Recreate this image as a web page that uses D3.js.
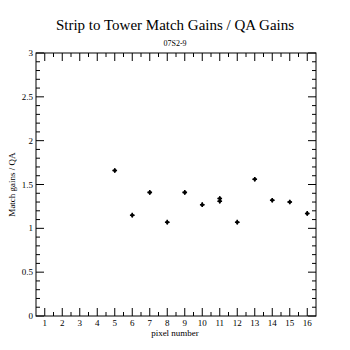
<!DOCTYPE html>
<html>
<head>
<meta charset="utf-8">
<script src="https://cdn.jsdelivr.net/npm/d3@7"></script>
<style>
  body { margin: 0; background: #fff; }
  text { font-family: "Liberation Serif", "DejaVu Serif", serif; fill: #000; }
</style>
</head>
<body>
<div id="chart"></div>
<script>
// Data
const pixels = [5, 6, 7, 8, 9, 10, 11, 11, 12, 13, 14, 15, 16];
const ratios = [1.66, 1.15, 1.41, 1.07, 1.41, 1.27, 1.31, 1.34, 1.07, 1.56, 1.32, 1.30, 1.17];
const xTicks = d3.range(1, 17);
const yTicks = [0, 0.5, 1, 1.5, 2, 2.5, 3];

const W = 350, H = 350;
const margin = { top: 53, right: 34, bottom: 34, left: 36 };

const svg = d3.select("#chart").append("svg")
    .attr("width", W)
    .attr("height", H);

const x = d3.scaleLinear().domain([0.5, 16.5]).range([margin.left, W - margin.right]);
const y = d3.scaleLinear().domain([0, 3]).range([H - margin.bottom, margin.top]);

// frame
svg.append("rect")
    .attr("x", x(0.5)).attr("y", y(3))
    .attr("width", x(16.5) - x(0.5)).attr("height", y(0) - y(3))
    .attr("fill", "none").attr("stroke", "#000").attr("stroke-width", 1);

// x ticks (major at integers, minor at halves), bottom and top
const xMinor = d3.range(1.5, 16.5, 1);
const xAxisB = svg.append("g");
xAxisB.selectAll(".xmaj").data(xTicks).enter().append("line")
    .attr("x1", d => x(d)).attr("x2", d => x(d))
    .attr("y1", y(0)).attr("y2", y(0) - 8).attr("stroke", "#000");
xAxisB.selectAll(".xmin").data(xMinor).enter().append("line")
    .attr("x1", d => x(d)).attr("x2", d => x(d))
    .attr("y1", y(0)).attr("y2", y(0) - 4).attr("stroke", "#000");
xAxisB.selectAll(".xmajt").data(xTicks).enter().append("line")
    .attr("x1", d => x(d)).attr("x2", d => x(d))
    .attr("y1", y(3)).attr("y2", y(3) + 8).attr("stroke", "#000");
xAxisB.selectAll(".xmint").data(xMinor).enter().append("line")
    .attr("x1", d => x(d)).attr("x2", d => x(d))
    .attr("y1", y(3)).attr("y2", y(3) + 4).attr("stroke", "#000");
xAxisB.selectAll(".xlab").data(xTicks).enter().append("text")
    .attr("x", d => x(d)).attr("y", y(0) + 10)
    .attr("text-anchor", "middle").attr("font-size", 9)
    .text(d => d);

// y ticks (major every 0.5, minor every 0.1), left and right
const yMinor = d3.range(0, 31).map(i => i / 10).filter(v => Math.round(v * 10) % 5 !== 0);
const yAxis = svg.append("g");
[[x(0.5), 1], [x(16.5), -1]].forEach(([x0, dir]) => {
    yAxis.append("g").selectAll("line").data(yTicks).enter().append("line")
        .attr("x1", x0).attr("x2", x0 + dir * 8)
        .attr("y1", d => y(d)).attr("y2", d => y(d)).attr("stroke", "#000");
    yAxis.append("g").selectAll("line").data(yMinor).enter().append("line")
        .attr("x1", x0).attr("x2", x0 + dir * 4)
        .attr("y1", d => y(d)).attr("y2", d => y(d)).attr("stroke", "#000");
});
yAxis.selectAll(".ylab").data(yTicks).enter().append("text")
    .attr("x", x(0.5) - 3).attr("y", d => y(d) + 3)
    .attr("text-anchor", "end").attr("font-size", 9)
    .text(d => d);

// markers: small four-pointed star (rotated square + cross)
const pts = svg.selectAll(".pt").data(pixels).enter().append("g")
    .attr("transform", (d, i) => `translate(${x(d)},${y(ratios[i])})`);
pts.append("path")
    .attr("d", d3.symbol().type(d3.symbolSquare).size(10))
    .attr("transform", "rotate(45)")
    .attr("fill", "#000");
pts.append("path")
    .attr("d", d3.symbol().type(d3.symbolCross).size(12))
    .attr("fill", "#000");

// titles
svg.append("text").attr("x", 175).attr("y", 30)
    .attr("text-anchor", "middle").attr("font-size", 15)
    .text("Strip to Tower Match Gains / QA Gains");
svg.append("text").attr("x", 175).attr("y", 46)
    .attr("text-anchor", "middle").attr("font-size", 8)
    .text("07S2-9");
svg.append("text").attr("x", 175).attr("y", 336)
    .attr("text-anchor", "middle").attr("font-size", 9)
    .text("pixel number");
svg.append("text")
    .attr("transform", `translate(15,${(y(0) + y(3)) / 2}) rotate(-90)`)
    .attr("text-anchor", "middle").attr("font-size", 9)
    .text("Match gains / QA");
</script>
</body>
</html>
